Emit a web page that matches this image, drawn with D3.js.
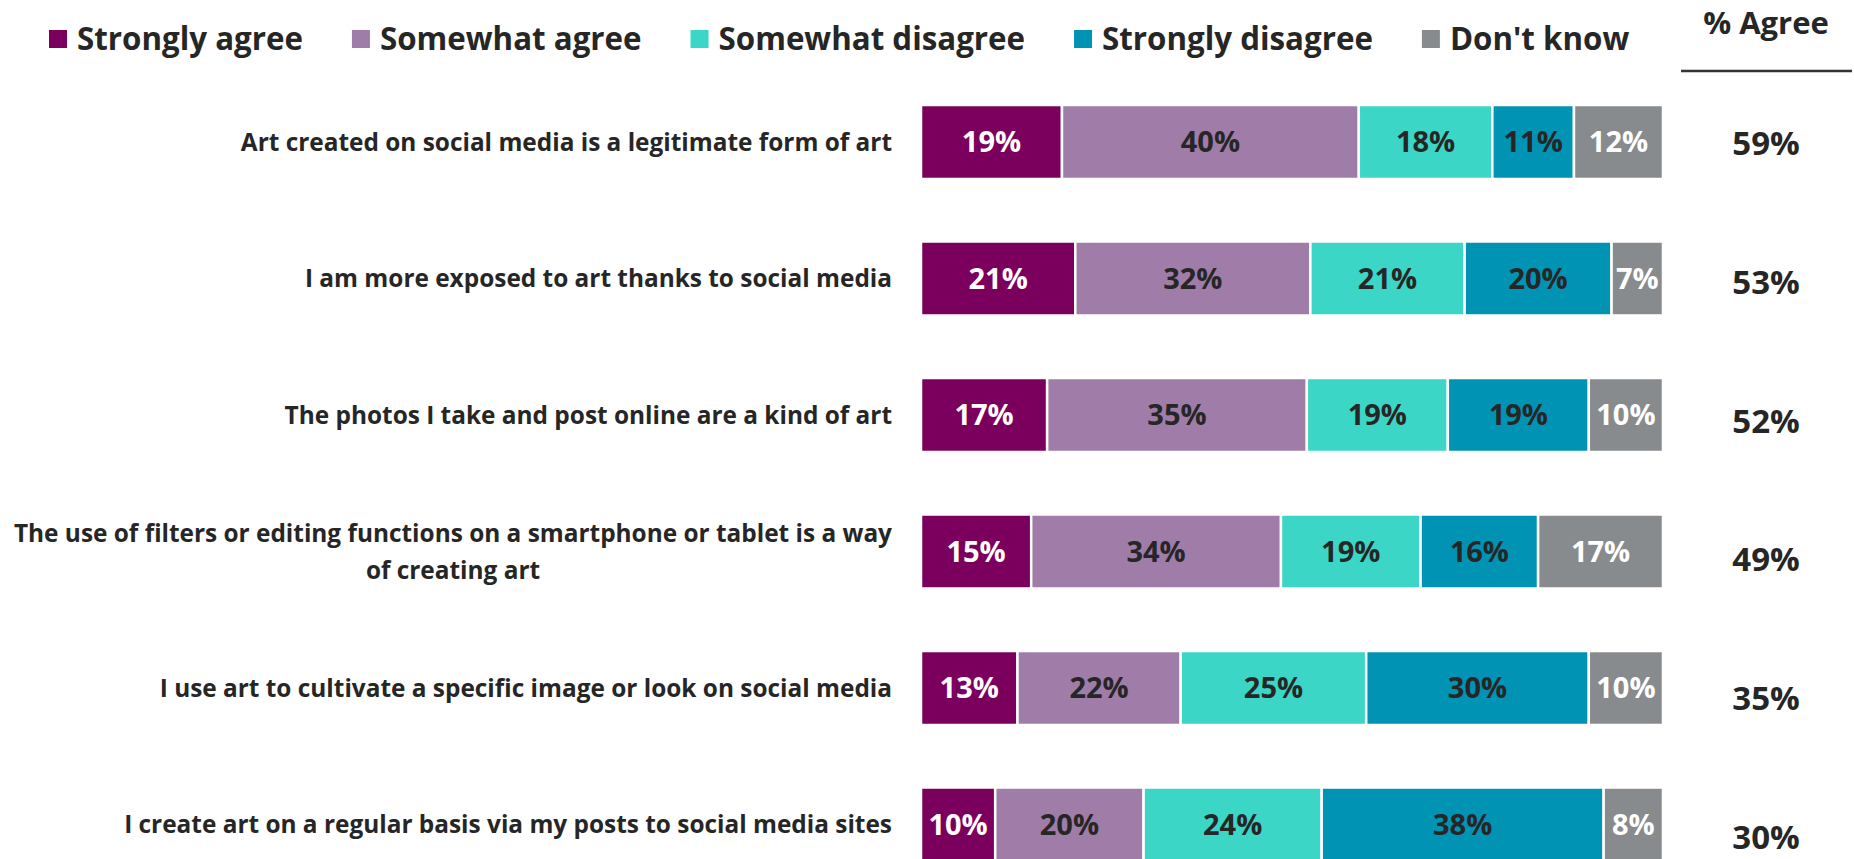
<!DOCTYPE html>
<html><head><meta charset="utf-8">
<script src="https://cdn.jsdelivr.net/npm/d3@7"></script>
<style>
html,body{margin:0;padding:0;background:#fff;}
svg{display:block;}
text{font-family:"Open Sans",sans-serif;font-weight:bold;fill:#262626;}
</style></head>
<body><svg id="chart" width="1854" height="859"></svg>
<script>
const statements = [
  "Art created on social media is a legitimate form of art",
  "I am more exposed to art thanks to social media",
  "The photos I take and post online are a kind of art",
  "The use of filters or editing functions on a smartphone or tablet is a way|of creating art",
  "I use art to cultivate a specific image or look on social media",
  "I create art on a regular basis via my posts to social media sites"
];
const seriesNames = ["Strongly agree","Somewhat agree","Somewhat disagree","Strongly disagree","Don't know"];
const stronglyAgree    = [19,21,17,15,13,10];
const somewhatAgree    = [40,32,35,34,22,20];
const somewhatDisagree = [18,21,19,19,25,24];
const stronglyDisagree = [11,20,19,16,30,38];
const dontKnow         = [12, 7,10,17,10, 8];
const pctAgree         = [59,53,52,49,35,30];
const agreeTitle = "% Agree";

const colors = ["#7B005E","#A07CA8","#3CD6C6","#0093B4","#888B8E"];
const labelColors = ["#ffffff","#262626","#262626","#262626","#ffffff"];

const seriesValues = [stronglyAgree, somewhatAgree, somewhatDisagree, stronglyDisagree, dontKnow];
const rows = statements.map((s,i)=>{
  const vals = seriesValues.map(a=>a[i]);
  const total = d3.sum(vals);
  let cum = 0;
  return {key:s, segs: vals.map((v,j)=>{const d={j, v, x0:cum/total, x1:(cum+v)/total}; cum+=v; return d;})};
});

const svg = d3.select("#chart");

const x = d3.scaleLinear().domain([0,1]).range([921,1663]);
const y = d3.scaleBand().domain(statements).range([105, 105 + 5*136.5 + 74]).paddingInner(0.458).paddingOuter(0);
const yR = d3.scaleBand().domain(statements).range([74, 906]).paddingInner(0).paddingOuter(0);

// bars
const g = svg.append("g");
const rowG = g.selectAll("g.row").data(rows).join("g").attr("class","row")
  .attr("transform", d=>`translate(0,${y(d.key)})`);
rowG.selectAll("rect").data(d=>d.segs).join("rect")
  .attr("x", d=>x(d.x0)).attr("width", d=>x(d.x1)-x(d.x0))
  .attr("y",0).attr("height", y.bandwidth())
  .attr("fill", d=>colors[d.j]).attr("stroke","#fff").attr("stroke-width",2.5);
rowG.selectAll("text").data(d=>d.segs).join("text")
  .attr("x", d=>(x(d.x0)+x(d.x1))/2).attr("y", y.bandwidth()/2)
  .attr("dy","0.36em").attr("text-anchor","middle")
  .style("font-size","29px").style("fill", d=>labelColors[d.j])
  .text(d=>d.v+"%");

// statement labels
const labelRight = 892;
const labelSize = 24.4;
statements.forEach(s=>{
  const lines = s.split("|");
  const cy = y(s) + y.bandwidth()/2;
  const lh = 37;
  const t0 = svg.append("text").attr("x", labelRight).attr("text-anchor","end")
    .attr("y", cy - (lines.length-1)*lh/2).attr("dy","0.36em")
    .style("font-size",labelSize+"px").text(lines[0]);
  if (lines.length > 1) {
    const w = t0.node().getComputedTextLength();
    for (let k=1;k<lines.length;k++){
      svg.append("text").attr("x", labelRight - w/2).attr("text-anchor","middle")
        .attr("y", cy - (lines.length-1)*lh/2 + k*lh).attr("dy","0.36em")
        .style("font-size",labelSize+"px").text(lines[k]);
    }
  }
});

// % agree column
svg.append("text").attr("x",1766).attr("y",23).attr("dy","0.36em").attr("text-anchor","middle")
  .style("font-size","31px").text(agreeTitle);
svg.append("line").attr("x1",1681).attr("x2",1852).attr("y1",71).attr("y2",71)
  .attr("stroke","#333").attr("stroke-width",2.5);
svg.selectAll("text.agree").data(statements).join("text").attr("class","agree")
  .attr("x",1766).attr("y", (d)=>yR(d)+yR.bandwidth()/2).attr("dy","0.36em").attr("text-anchor","middle")
  .style("font-size","33px").text((d,i)=>pctAgree[i]+"%");

// legend
let lx = 49;
const legend = svg.append("g");
seriesNames.forEach((n,i)=>{
  legend.append("rect").attr("x",lx).attr("y",30).attr("width",18).attr("height",18).attr("fill",colors[i]);
  const t = legend.append("text").attr("x",lx+28).attr("y",39).attr("dy","0.36em")
    .style("font-size","31.3px").text(n);
  lx = lx + 28 + t.node().getComputedTextLength() + 49;
});
</script></body></html>
